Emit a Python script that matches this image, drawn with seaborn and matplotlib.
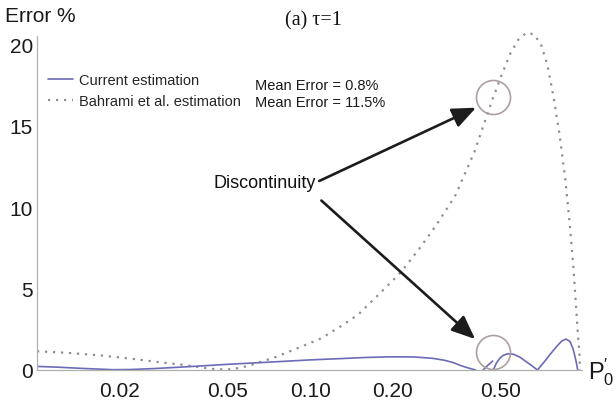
import matplotlib
matplotlib.use("Agg")
import matplotlib.pyplot as plt
from matplotlib.lines import Line2D
from matplotlib.ticker import MultipleLocator, NullFormatter, LogLocator
import numpy as np
import pandas as pd
import seaborn as sns

# ---- data -------------------------------------------------------------
# Current estimation error (%), drawn as separate pieces (discontinuity near P'0 ~ 0.43)
cur_seg1_x = [0.010, 0.012, 0.015, 0.019, 0.022, 0.027, 0.033, 0.040, 0.050, 0.065,
              0.080, 0.100, 0.130, 0.160, 0.200, 0.240, 0.280, 0.310, 0.335, 0.355,
              0.375, 0.392, 0.404]
cur_seg1_y = [0.22, 0.17, 0.09, 0.02, 0.03, 0.09, 0.17, 0.25, 0.35, 0.45,
              0.53, 0.62, 0.70, 0.77, 0.81, 0.80, 0.72, 0.60, 0.45, 0.28,
              0.15, 0.06, 0.0]
cur_seg2_x = [0.430, 0.447, 0.466]
cur_seg2_y = [0.0, 0.28, 0.55]
cur_seg3_x = [0.470, 0.480, 0.495, 0.510, 0.530, 0.555, 0.585, 0.620, 0.650, 0.680]
cur_seg3_y = [0.05, 0.40, 0.72, 0.90, 1.00, 0.97, 0.80, 0.50, 0.25, 0.0]
cur_seg4_x = [0.680, 0.720, 0.760, 0.800, 0.835, 0.865, 0.895, 0.920, 0.940, 0.955]
cur_seg4_y = [0.0, 0.50, 1.00, 1.45, 1.78, 1.90, 1.75, 1.25, 0.60, 0.0]

# Bahrami et al. estimation error (%)
bah_x = [0.010, 0.013, 0.017, 0.022, 0.028, 0.034, 0.040, 0.045, 0.050, 0.055,
         0.060, 0.066, 0.075, 0.083, 0.095, 0.110, 0.130, 0.150, 0.180, 0.215,
         0.250, 0.290, 0.340, 0.400, 0.465, 0.500, 0.540, 0.580, 0.620, 0.660,
         0.700, 0.740, 0.780, 0.820, 0.860, 0.890, 0.920, 0.945, 0.960, 0.970,
         0.972]
bah_y = [1.15, 1.05, 0.90, 0.70, 0.48, 0.32, 0.15, 0.05, 0.03, 0.12,
         0.28, 0.50, 0.80, 1.10, 1.50, 1.95, 2.70, 3.40, 4.70, 6.00,
         7.40, 8.90, 10.70, 13.40, 16.60, 18.00, 19.40, 20.30, 20.70, 20.60,
         20.00, 18.70, 16.70, 14.40, 11.70, 9.20, 6.40, 3.50, 1.80, 0.90,
         0.0]

# discontinuity markers
disc_x = [0.466, 0.468]
disc_y = [16.75, 1.10]

x_ticks = [0.02, 0.05, 0.10, 0.20, 0.50]
x_tick_labels = ["0.02", "0.05", "0.10", "0.20", "0.50"]
y_ticks = [0, 5, 10, 15, 20]

labels = ["Current estimation", "Bahrami et al. estimation"]
mean_errors = ["Mean Error = 0.8%", "Mean Error = 11.5%"]

# ---- style ------------------------------------------------------------
sns.set_style("white")
plt.rcParams["font.family"] = ["Liberation Sans", "DejaVu Sans"]
plt.rcParams["mathtext.fontset"] = "custom"
plt.rcParams["mathtext.rm"] = "Liberation Sans"
plt.rcParams["mathtext.it"] = "Liberation Sans:italic"

blue = "#6b6bb6"
grey = "#8e8e8e"
axis_grey = "#b0b0b0"
ring = "#ad9f9f"
dots = (0, (1, 2.6))

fig = plt.figure(figsize=(6.16, 4.10), dpi=100)
ax = fig.add_axes([37 / 616, 1 - 371 / 410, 545 / 616, 334 / 410])

cur_df = pd.concat([
    pd.DataFrame({"p": cur_seg1_x, "err": cur_seg1_y, "seg": 1}),
    pd.DataFrame({"p": cur_seg2_x, "err": cur_seg2_y, "seg": 2}),
    pd.DataFrame({"p": cur_seg3_x, "err": cur_seg3_y, "seg": 3}),
    pd.DataFrame({"p": cur_seg4_x, "err": cur_seg4_y, "seg": 4}),
], ignore_index=True)
bah_df = pd.DataFrame({"p": bah_x, "err": bah_y})

sns.lineplot(data=bah_df, x="p", y="err", estimator=None, sort=False,
             color=grey, lw=1.6, linestyle=dots, ax=ax, clip_on=False)
sns.lineplot(data=cur_df, x="p", y="err", units="seg", estimator=None, sort=False,
             color=blue, lw=1.2, ax=ax)

# circles around the discontinuities
ax.plot(disc_x, disc_y, linestyle="none", marker="o", ms=24.5, mfc="none",
        mec=ring, mew=1.2, clip_on=False)

ax.set_xscale("log")
ax.set_xlim(0.01, 0.99)
ax.set_ylim(0, 20.5)
ax.set_xticks(x_ticks)
ax.set_xticklabels(x_tick_labels)
ax.xaxis.set_minor_locator(LogLocator(base=10, subs=np.arange(2, 10) * 1.0))
ax.xaxis.set_minor_formatter(NullFormatter())
ax.set_yticks(y_ticks)
ax.yaxis.set_minor_locator(MultipleLocator(1))
ax.set_xlabel("")
ax.set_ylabel("")

for s in ["top", "right"]:
    ax.spines[s].set_visible(False)
for s in ["left", "bottom"]:
    ax.spines[s].set_color(axis_grey)
    ax.spines[s].set_linewidth(0.9)

ax.tick_params(which="both", direction="in", color=axis_grey, width=0.8)
ax.tick_params(which="major", length=5, labelsize=15, labelcolor="#1a1a1a")
ax.tick_params(which="minor", length=2.5)
ax.tick_params(axis="x", which="major", pad=8)
ax.tick_params(axis="y", which="major", pad=3)

# legend and mean errors
handles = [Line2D([], [], color=blue, lw=1.2),
           Line2D([], [], color=grey, lw=1.6, linestyle=dots)]
ax.legend(handles, labels, loc="upper left", bbox_to_anchor=(0.02, 0.888),
          frameon=False, fontsize=10.5, handlelength=1.7, handletextpad=0.45,
          borderaxespad=0, borderpad=0, labelspacing=0.45)
ax.text(0.40, 0.852, mean_errors[0], transform=ax.transAxes, fontsize=10.5,
        ha="left", va="center", color="#1a1a1a")
ax.text(0.40, 0.802, mean_errors[1], transform=ax.transAxes, fontsize=10.5,
        ha="left", va="center", color="#1a1a1a")

# annotation
arrow = dict(arrowstyle="-|>,head_length=0.9,head_width=0.38", color="#1c1c1c",
             lw=1.9, shrinkA=0, shrinkB=0, mutation_scale=16)
ax.annotate("", xy=(0.405, 16.1), xytext=(0.108, 11.6), arrowprops=arrow)
ax.annotate("", xy=(0.402, 1.9), xytext=(0.110, 10.4), arrowprops=arrow)
ax.text(0.068, 11.5, "Discontinuity", fontsize=13, ha="center", va="center",
        color="#111111")

# axis titles
fig.text(5 / 616, 1 - 17 / 410, "Error %", fontsize=15, ha="left", va="center",
         color="#1a1a1a")
fig.text(313 / 616, 1 - 21 / 410, "(a) τ=1", fontsize=14.5, ha="center", va="center",
         family=["Liberation Serif", "DejaVu Serif"], color="#111111")
fig.text(588 / 616, 1 - 372 / 410, r"$\mathrm{P}_0^{\prime}$", fontsize=17,
         ha="left", va="center", color="#1a1a1a")

fig.savefig("out.png", dpi=100)
